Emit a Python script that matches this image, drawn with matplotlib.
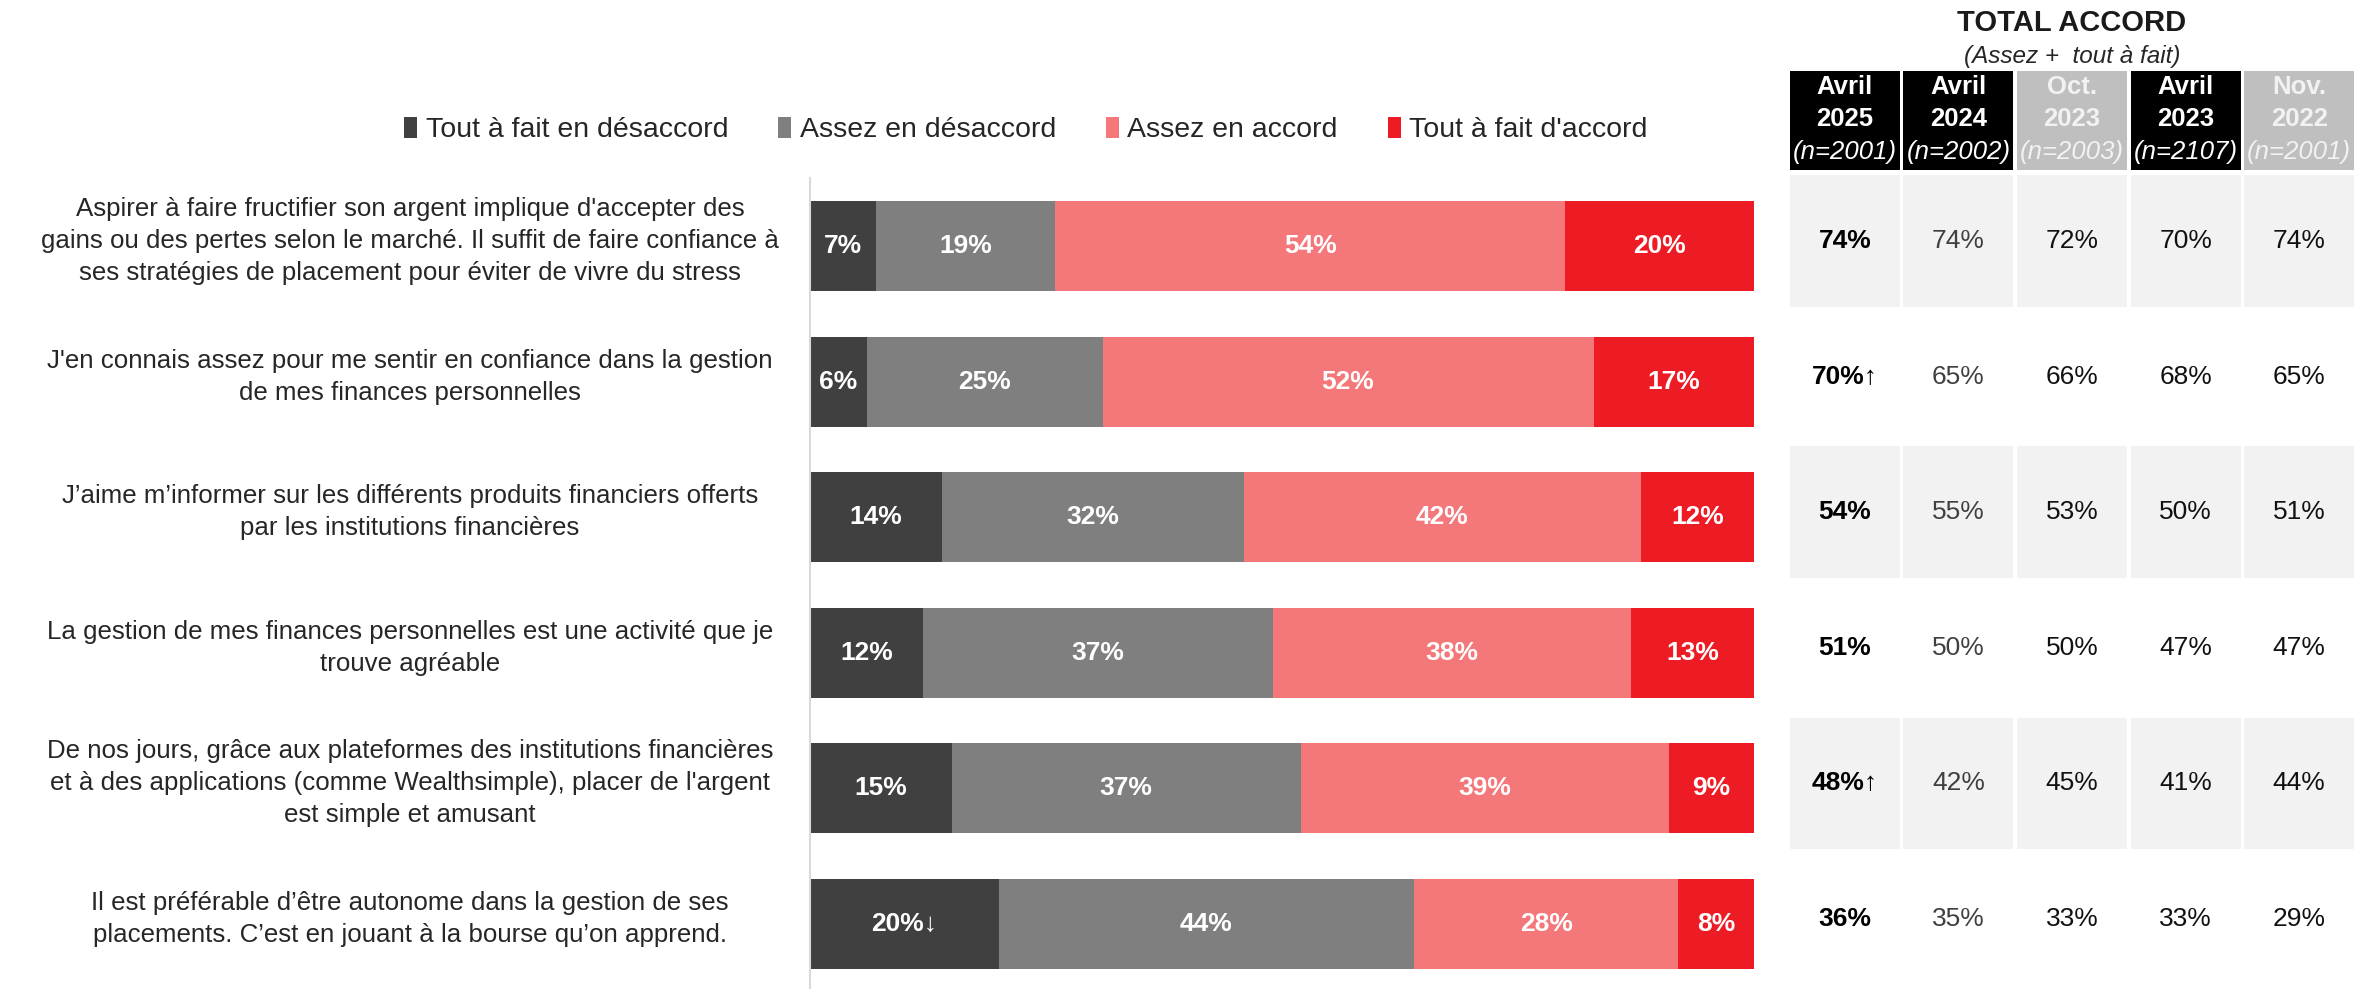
# Perception du placement et de la gestion financiere -- barres empilees + tableau "TOTAL ACCORD"
import matplotlib.pyplot as plt
from matplotlib.transforms import blended_transform_factory

plt.rcParams['font.family'] = ['Liberation Sans', 'DejaVu Sans']

# ---------------------------------------------------------------------------
# Data
# ---------------------------------------------------------------------------
statements = [
    "Aspirer à faire fructifier son argent implique d'accepter des\n"
    "gains ou des pertes selon le marché. Il suffit de faire confiance à\n"
    "ses stratégies de placement pour éviter de vivre du stress",
    "J'en connais assez pour me sentir en confiance dans la gestion\n"
    "de mes finances personnelles",
    "J\u2019aime m\u2019informer sur les différents produits financiers offerts\n"
    "par les institutions financières",
    "La gestion de mes finances personnelles est une activité que je\n"
    "trouve agréable",
    "De nos jours, grâce aux plateformes des institutions financières\n"
    "et à des applications (comme Wealthsimple), placer de l'argent\n"
    "est simple et amusant",
    "Il est préférable d\u2019être autonome dans la gestion de ses\n"
    "placements. C\u2019est en jouant à la bourse qu\u2019on apprend.",
]

series_names = ["Tout à fait en désaccord", "Assez en désaccord",
                "Assez en accord", "Tout à fait d'accord"]
tout_desaccord = [7, 6, 14, 12, 15, 20]
assez_desaccord = [19, 25, 32, 37, 37, 44]
assez_accord = [54, 52, 42, 38, 39, 28]
tout_accord = [20, 17, 12, 13, 9, 8]
# significance arrows on the first segment
arrows_desaccord = ["", "", "", "", "", "\u2193"]

periods = ["Avril\n2025", "Avril\n2024", "Oct.\n2023", "Avril\n2023", "Nov.\n2022"]
n_sizes = ["(n=2001)", "(n=2002)", "(n=2003)", "(n=2107)", "(n=2001)"]
total_avr25 = [74, 70, 54, 51, 48, 36]
arrows_avr25 = ["", "\u2191", "", "", "\u2191", ""]
total_avr24 = [74, 65, 55, 50, 42, 35]
total_oct23 = [72, 66, 53, 50, 45, 33]
total_avr23 = [70, 68, 50, 47, 41, 33]
total_nov22 = [74, 65, 51, 47, 44, 29]

colors = ["#404040", "#7F7F7F", "#F4777A", "#ED1C24"]
header_bg = ["#000000", "#000000", "#BFBFBF", "#000000", "#BFBFBF"]
header_fg = ["white", "white", "#F2F2F2", "white", "#F2F2F2"]
value_fg = ["black", "#404040", "#111111", "#111111", "#111111"]

# ---------------------------------------------------------------------------
# Layout (pixel helpers)
# ---------------------------------------------------------------------------
W, H = 2364, 989
fig = plt.figure(figsize=(W / 100, H / 100), dpi=100)


def fx(px):
    return px / W


def fy(py):
    return 1 - py / H


pitch = 135.6           # row pitch in pixels
bar_row0 = 246          # centre of first bar (px)
tab_row0 = 241          # centre of first table row / label (px)


def bar_y(py):
    return (py - bar_row0) / pitch


def tab_y(py):
    return (py - tab_row0) / pitch


# ---------------------------------------------------------------------------
# Stacked bars
# ---------------------------------------------------------------------------
ax = fig.add_axes([fx(810), 0, fx(1754) - fx(810), (H - 178) / H])
rows = list(range(len(statements)))
left = [0] * len(rows)
containers = []
for name, vals, col in zip(series_names,
                           [tout_desaccord, assez_desaccord, assez_accord, tout_accord],
                           colors):
    bars = ax.barh(rows, vals, left=left, height=0.665, color=col, label=name)
    containers.append(bars)
    left = [a + b for a, b in zip(left, vals)]

labels_first = [f"{v}%{a}" for v, a in zip(tout_desaccord, arrows_desaccord)]
ax.bar_label(containers[0], labels=labels_first, label_type="center",
             color="white", fontweight="bold", fontsize=19)
for bars, vals in zip(containers[1:], [assez_desaccord, assez_accord, tout_accord]):
    ax.bar_label(bars, labels=[f"{v}%" for v in vals], label_type="center",
                 color="white", fontweight="bold", fontsize=19)

ax.set_xlim(0, 100)
ax.set_ylim(bar_y(H), bar_y(178))
ax.set_xticks([])
ax.set_yticks([])
for s in ["top", "right", "bottom"]:
    ax.spines[s].set_visible(False)
ax.spines["left"].set_color("#D9D9D9")
ax.spines["left"].set_linewidth(1.5)

# statement labels, centred in the left area
trans = blended_transform_factory(fig.transFigure, ax.transData)
label_shift = (tab_row0 - bar_row0) / pitch
for r, txt in zip(rows, statements):
    ax.text(fx(410), r + label_shift, txt, transform=trans, ha="center",
            va="center", multialignment="center", fontsize=18.6,
            linespacing=1.42, color="#262626")

# legend
fig.legend(handles=containers, labels=series_names, loc="center left",
           bbox_to_anchor=(fx(404), fy(130)), ncol=4, frameon=False,
           fontsize=20.5, labelcolor="#262626", handlelength=0.46,
           handleheight=0.74, handletextpad=0.3, columnspacing=1.75,
           borderaxespad=0, borderpad=0)

# ---------------------------------------------------------------------------
# TOTAL ACCORD table
# ---------------------------------------------------------------------------
tax = fig.add_axes([fx(1788), 0, fx(2356) - fx(1788), (H - 60) / H])
tax.set_xlim(-0.5, 4.5)
tax.set_ylim(tab_y(H), tab_y(60))
tax.axis("off")
cols = list(range(len(periods)))

# header cells
tax.bar(cols, tab_y(170) - tab_y(71), bottom=tab_y(71), width=0.97,
        color=header_bg)
for c in cols:
    tax.text(c, tab_y(103), periods[c], ha="center", va="center",
             fontsize=18.5, fontweight="bold", color=header_fg[c],
             linespacing=1.45)
    tax.text(c, tab_y(152), n_sizes[c], ha="center", va="center",
             fontsize=18.5, fontstyle="italic", color=header_fg[c])

# shaded rows
for r in rows[::2]:
    tax.bar(cols, 0.97, bottom=r - 0.485, width=0.97, color="#F2F2F2")

columns = [total_avr25, total_avr24, total_oct23, total_avr23, total_nov22]
for c, vals in enumerate(columns):
    for r, v in enumerate(vals):
        if c == 0:
            tax.text(c, r, f"{v}%{arrows_avr25[r]}", ha="center", va="center",
                     fontsize=19, fontweight="bold", color=value_fg[c])
        else:
            tax.text(c, r, f"{v}%", ha="center", va="center",
                     fontsize=19, color=value_fg[c])

fig.text(fx(2072), fy(23), "TOTAL ACCORD", ha="center", va="center",
         fontsize=21, fontweight="bold", color="#1A1A1A")
fig.text(fx(2072), fy(57), "(Assez +  tout à fait)", ha="center", va="center",
         fontsize=17.5, fontstyle="italic", color="#262626")

fig.savefig("out.png", dpi=100)
